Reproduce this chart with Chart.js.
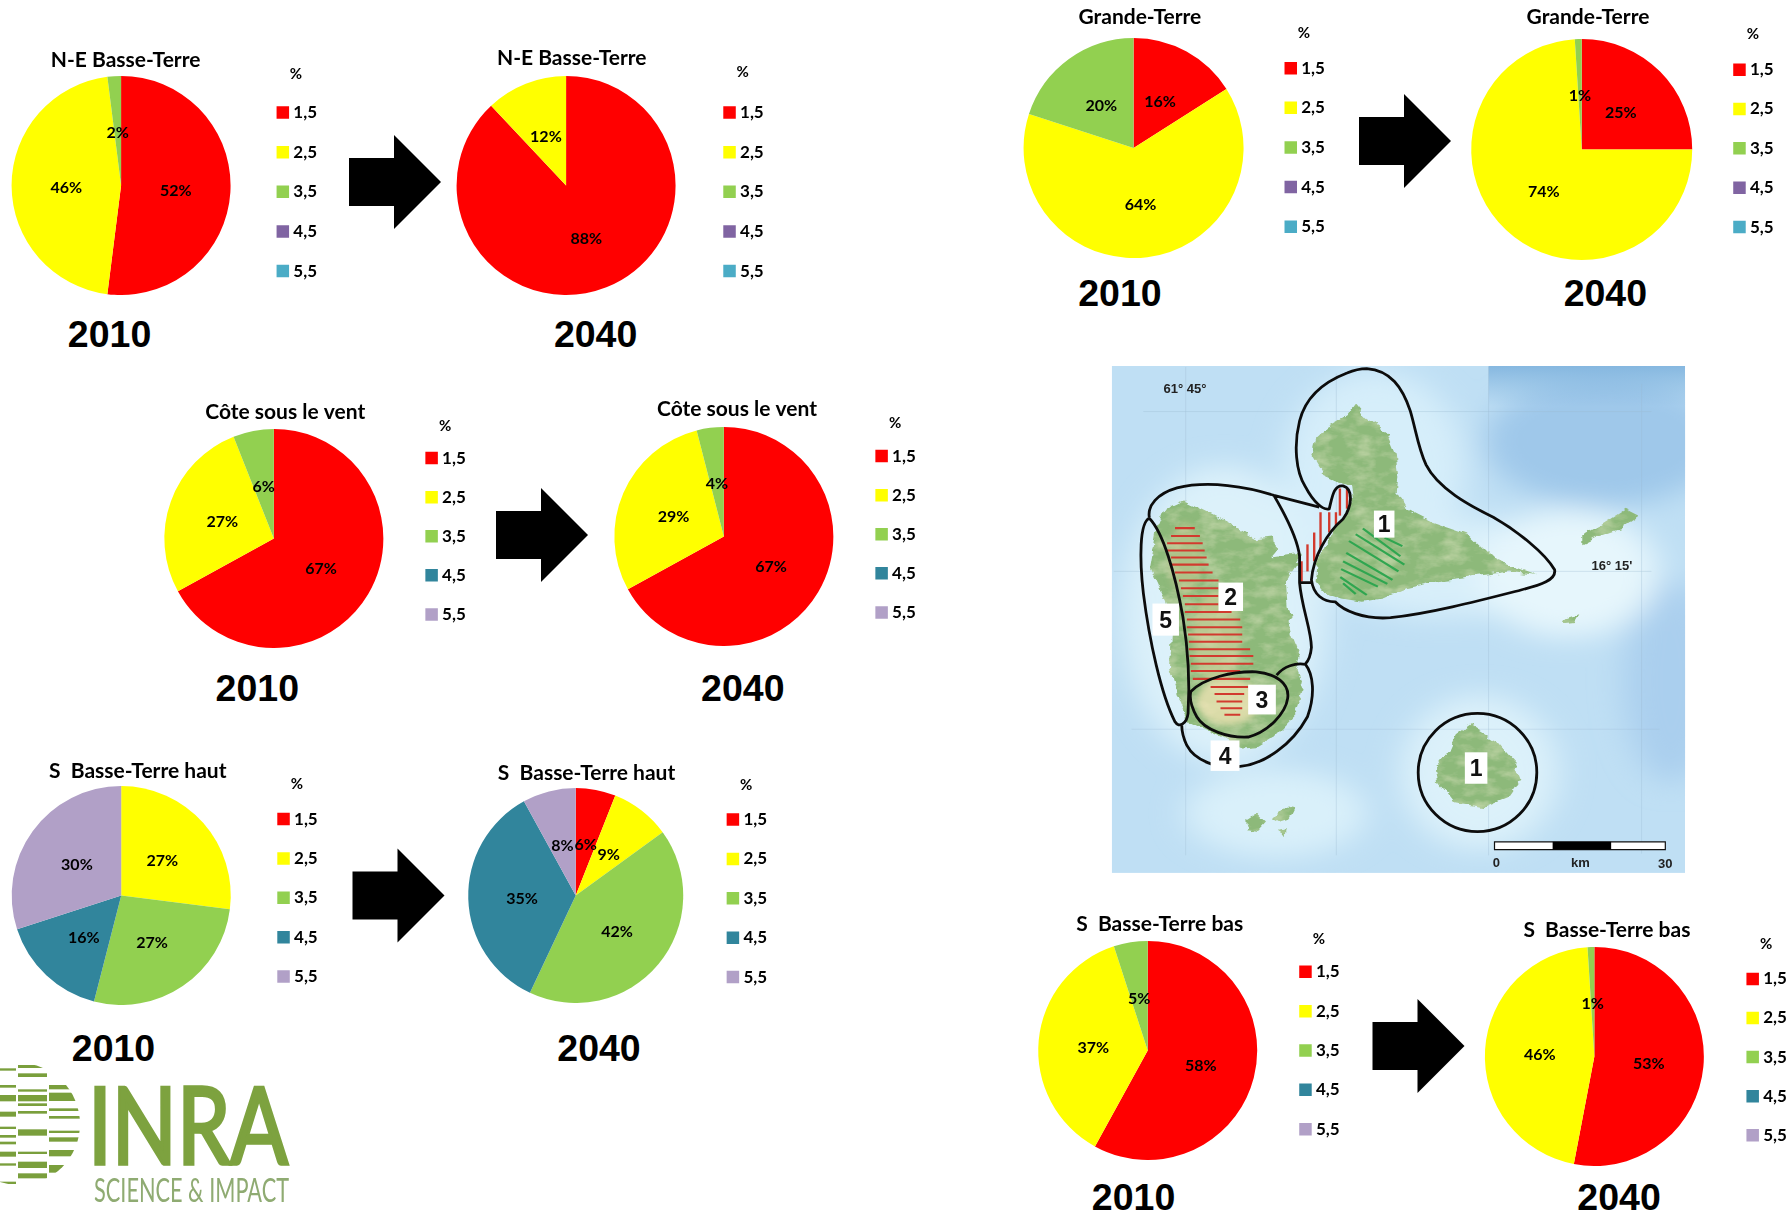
<!DOCTYPE html>
<html><head><meta charset="utf-8">
<style>
html,body{margin:0;padding:0;background:#fff;width:1789px;height:1215px;overflow:hidden}
#stage{position:relative;width:1789px;height:1215px;overflow:hidden}
canvas{position:absolute}
.year{position:absolute;font:bold 37.5px "Liberation Sans",Arial,sans-serif;line-height:1;transform:translate(-50%,-50%);color:#000}
svg{position:absolute;overflow:hidden}
</style>
<script src="https://cdn.jsdelivr.net/npm/chart.js@4"></script>
</head><body><div id="stage"></div>
<script>
// ---- data ----
const categories = ['1,5','2,5','3,5','4,5','5,5'];
const legendTitle = '%';
const neBasseTerre2010 = [52,46,2,0,0];
const neBasseTerre2040 = [88,12,0,0,0];
const grandeTerre2010 = [16,64,20,0,0];
const grandeTerre2040 = [25,74,1,0,0];
const coteSousLeVent2010 = [67,27,6,0,0];
const coteSousLeVent2040 = [67,29,4,0,0];
const sBasseTerreHaut2010 = [0,27,27,16,30];
const sBasseTerreHaut2040 = [6,9,42,35,8];
const sBasseTerreBas2010 = [58,37,5,0,0];
const sBasseTerreBas2040 = [53,46,1,0,0];
const coloursA = ['#FF0000','#FFFF00','#92D050','#8064A2','#4BACC6'];
const coloursB = ['#FF0000','#FFFF00','#92D050','#31859C','#B1A0C7'];

// ---- layout (pixels in the 1789 wide page) ----
const S = 1.141;
const panels = [
 {t:'N-E Basse-Terre',y:'2010',d:neBasseTerre2010,c:coloursA,cx:106.5,cy:163,r:96,tx:110.5,ty:53,sx:243,py:65.5,i1:99,i5:238,yx:96,yy:294},
 {t:'N-E Basse-Terre',y:'2040',d:neBasseTerre2040,c:coloursA,cx:496,cy:163,r:96,tx:501,ty:51.5,sx:634,py:63.5,i1:99,i5:238,yx:522,yy:294},
 {t:'Grande-Terre',y:'2010',d:grandeTerre2010,c:coloursA,cx:993.5,cy:130,r:96.5,tx:999,ty:15.5,sx:1126,py:29.5,i1:60,i5:199,yx:981.5,yy:258},
 {t:'Grande-Terre',y:'2040',d:grandeTerre2040,c:coloursA,cx:1386,cy:131,r:97,tx:1391.5,ty:15.5,sx:1519,py:29.5,i1:61,i5:199,yx:1407,yy:258},
 {t:'Côte sous le vent',y:'2010',d:coteSousLeVent2010,c:coloursB,cx:240,cy:472,r:96,tx:250,ty:361.5,sx:373,py:373.5,i1:401.5,i5:538.5,yx:225.5,yy:603.5},
 {t:'Côte sous le vent',y:'2040',d:coteSousLeVent2040,c:coloursB,cx:634,cy:470,r:96,tx:645.5,ty:358.5,sx:767,py:370.5,i1:399.5,i5:536.5,yx:651,yy:603.5},
 {t:'S  Basse-Terre haut',y:'2010',d:sBasseTerreHaut2010,c:coloursB,cx:106,cy:785,r:96,tx:120.5,ty:676.5,sx:243,py:687.5,i1:718,i5:856,yx:99.5,yy:919},
 {t:'S  Basse-Terre haut',y:'2040',d:sBasseTerreHaut2040,c:coloursB,cx:504.5,cy:785,r:94,tx:514,ty:677.5,sx:637,py:688.5,i1:718.5,i5:856.5,yx:525,yy:919},
 {t:'S  Basse-Terre bas',y:'2010',d:sBasseTerreBas2010,c:coloursB,cx:1006,cy:921,r:96,tx:1016.5,ty:810.5,sx:1139,py:823.5,i1:852,i5:990,yx:993.5,yy:1050},
 {t:'S  Basse-Terre bas',y:'2040',d:sBasseTerreBas2040,c:coloursB,cx:1397.5,cy:926,r:96,tx:1408.5,ty:815,sx:1531,py:827.5,i1:858,i5:995,yx:1419,yy:1050}
];
const arrows = [[349,182],[1359,141],[496,535],[352.5,895.6],[1372.5,1046]];

const stage = document.getElementById('stage');
const FONT = 'Lato, "Open Sans", sans-serif';
const LEG_W = 70, TITLE_BOX = 40, LEG_FS = 17, TITLE_FS = 21;

const pctLabels = {
  id:'pctLabels',
  afterDatasetsDraw(chart){
    const ctx = chart.ctx, vals = chart.data.datasets[0].data;
    ctx.save();
    ctx.font = 'bold 16px ' + FONT; ctx.fillStyle = '#000';
    ctx.textAlign = 'center'; ctx.textBaseline = 'middle';
    chart.getDatasetMeta(0).data.forEach((arc,i)=>{
      if(!vals[i]) return;
      const p = arc.tooltipPosition();
      ctx.fillText(vals[i] + '%', p.x, p.y + 2);
    });
    ctx.restore();
  }
};
const placer = {
  id:'placer',
  afterLayout(chart){
    const g = chart.options.plugins.placer, a = chart.chartArea;
    const mx = (a.left+a.right)/2, my = (a.top+a.bottom)/2;
    const tb = chart.titleBlock;
    const tc = (tb.left+tb.right)/2, dx = mx + g.tdx - tc;
    tb.left += dx; tb.right += dx;
    const lh = tb.options.font.size*1.2;
    const tyNow = tb.top + lh/2, dy = my + g.tdy - tyNow;
    tb.top += dy; tb.bottom += dy;
    const lg = chart.legend;
    const w = lg.right-lg.left, h = lg.bottom-lg.top;
    lg.left = mx + g.sdx + 4 - g.pad; lg.right = lg.left + w;
    lg.top = my + g.pdy - 7.5; lg.bottom = lg.top + h;
    lg.width = w + 6.8;
  }
};

panels.forEach(p=>{
  const cx=p.cx*S, cy=p.cy*S, r=p.r*S, sx=p.sx*S;
  const pad = (p.i5-p.i1)/4*S - LEG_FS;
  const gap = (p.i1-p.py)*S - (18 + pad + LEG_FS/2 - 7.5);
  const W = Math.round(2*(sx-cx+10)+LEG_W), H = Math.round(2*r+TITLE_BOX);
  const cv = document.createElement('canvas');
  cv.style.width=W+'px'; cv.style.height=H+'px'; cv.width=W; cv.height=H;
  cv.style.left='0px'; cv.style.top='0px';
  stage.appendChild(cv);
  const chart = new Chart(cv,{
    type:'pie',
    data:{labels:categories,datasets:[{data:p.d,backgroundColor:p.c,borderWidth:0}]},
    options:{
      responsive:false,animation:false,devicePixelRatio:1,
      layout:{padding:0},
      plugins:{
        tooltip:{enabled:false},
        title:{display:true,text:p.t,color:'#000',fullSize:false,font:{family:FONT,size:TITLE_FS,weight:'bold',lineHeight:1.2},padding:{top:0,bottom:TITLE_BOX-TITLE_FS*1.2}},
        legend:{display:true,position:'right',align:'start',
          title:{display:true,text:legendTitle,color:'#000',font:{family:FONT,size:15,weight:'bold',lineHeight:1.2},padding:{top:0,bottom:gap}},
          labels:{color:'#000',font:{family:FONT,size:LEG_FS,weight:'bold',lineHeight:1.2},usePointStyle:true,pointStyle:'rect',boxWidth:4,boxHeight:12.5,padding:pad}},
        placer:{tdx:(p.tx-p.cx)*S,tdy:(p.ty-p.cy)*S,sdx:(p.sx-p.cx)*S,pdy:(p.py-p.cy)*S,pad}
      }
    },
    plugins:[pctLabels,placer]
  });
  const a = chart.chartArea;
  cv.style.left = (cx-(a.left+a.right)/2)+'px';
  cv.style.top = (cy-(a.top+a.bottom)/2)+'px';
  const y = document.createElement('div');
  y.className='year'; y.textContent=p.y;
  y.style.left=(p.yx*S)+'px'; y.style.top=(p.yy*S)+'px';
  stage.appendChild(y);
});

// ---- arrows ----
let arrowSvg='<svg style="left:0;top:0" width="1789" height="1215">';
arrows.forEach(([x,y])=>{
  arrowSvg+=`<polygon fill="#000" points="${x},${y-24} ${x+45},${y-24} ${x+45},${y-47} ${x+92},${y} ${x+45},${y+47} ${x+45},${y+24} ${x},${y+24}"/>`;
});
arrowSvg+='</svg>';
stage.insertAdjacentHTML('beforeend',arrowSvg);

// ---- map, in the coordinates of a 1568 x 1568 box stretched over 620 x 530 ----
const hatchRed=[[527,215,265],[550,205,278],[572,195,285],[593,195,290],[614,205,295],[635,205,300],[658,215,310],[682,225,325],[705,230,325],[728,235,325],[752,240,325],[775,240,358],[797,245,380],[820,245,385],[842,248,385],[863,250,385],[885,250,405],[905,252,413],[928,255,413],[950,255,380],[973,260,405],[997,305,400],[1018,315,390],[1040,320,385],[1060,330,385],[1079,340,380]];
const hatchV=[[535,625,685],[550,575,655],[567,540,625],[583,480,590],[605,480,540],[622,480,520],[632,410,490],[650,405,470]];
const hatchG=[[690,528,785,610],[672,545,795,635],[655,565,780,655],[648,600,765,680],[640,625,752,692],[635,648,728,700],[633,672,700,725],[640,690,672,722],[745,555,790,580]];
let hr=hatchRed.map(([y,a,b])=>`<line x1="${a}" x2="${b}" y1="${y}" y2="${y}"/>`).join('');
let hv=hatchV.map(([x,a,b])=>`<line x1="${x}" x2="${x}" y1="${a}" y2="${b}"/>`).join('');
let hg=hatchG.map(([a,b,c,d])=>`<line x1="${a}" y1="${b}" x2="${c}" y2="${d}"/>`).join('');
const mx=z=>1090+z/2.529, my=z=>350+z/2.958;
const boxes=[[718,475,770,555,'1'],[325,688,387,772,'2'],[158,750,225,845,'5'],[400,990,470,1078,'3'],[305,1155,378,1245,'4'],[948,1190,1005,1283,'1']];
let boxHtml=boxes.map(([a,b,c,d,t])=>`<rect x="${mx(a)}" y="${my(b)}" width="${mx(c)-mx(a)}" height="${my(d)-my(b)}" fill="#fff"/><text x="${(mx(a)+mx(c))/2}" y="${(my(b)+my(d))/2+8}" text-anchor="middle" font-family="Liberation Sans" font-weight="bold" font-size="23" fill="#111">${t}</text>`).join('');
const btPath="M235,445 L280,470 350,510 420,560 465,555 470,610 530,600 530,620 495,680 500,760 510,840 530,900 520,950 540,1010 520,1080 470,1140 420,1175 380,1180 320,1140 250,1100 225,1030 200,940 205,830 190,740 150,640 165,540 190,470Z";
const mapSvg=`
<svg style="left:1090px;top:350px" width="620" height="530" viewBox="0 0 1568 1568" preserveAspectRatio="none">
<defs>
<filter id="b1" x="-30%" y="-30%" width="160%" height="160%"><feGaussianBlur stdDeviation="40"/></filter>
<filter id="b2" x="-30%" y="-30%" width="160%" height="160%"><feGaussianBlur stdDeviation="10"/></filter>
<filter id="land" x="-5%" y="-5%" width="110%" height="110%">
<feTurbulence type="fractalNoise" baseFrequency="0.018 0.03" numOctaves="4" seed="4" result="n"/>
<feDisplacementMap in="SourceGraphic" in2="n" scale="26" xChannelSelector="R" yChannelSelector="G" result="d"/>
<feColorMatrix in="n" type="matrix" values="0 0 0 0 0.80  0 0 0 0 0.86  0 0 0 0 0.58  0 0 0 0.9 -0.38" result="t"/>
<feComposite in="t" in2="d" operator="in" result="tt"/>
<feMerge><feMergeNode in="d"/><feMergeNode in="tt"/></feMerge>
</filter>
<clipPath id="mc"><rect x="55" y="47" width="1450" height="1500"/></clipPath>
<clipPath id="bt"><path d="${btPath}"/></clipPath>
<linearGradient id="top" x1="0" y1="0" x2="0" y2="1"><stop offset="0" stop-color="#78AEDB" stop-opacity=".8"/><stop offset="1" stop-color="#78AEDB" stop-opacity="0"/></linearGradient>
</defs>
<g clip-path="url(#mc)">
<rect x="55" y="47" width="1450" height="1500" fill="#BFDFF4"/>
<g filter="url(#b1)">
<ellipse cx="1300" cy="270" rx="300" ry="190" fill="#9FC8EA"/>
<ellipse cx="1470" cy="980" rx="120" ry="300" fill="#AACFEE"/>
<ellipse cx="720" cy="350" rx="230" ry="290" fill="#D6EEFA"/>
<ellipse cx="340" cy="780" rx="260" ry="440" fill="#DCF1FA"/>
<ellipse cx="900" cy="640" rx="330" ry="150" fill="#D8EFFA"/>
<ellipse cx="1210" cy="660" rx="230" ry="190" fill="#E6F6FC"/>
<ellipse cx="985" cy="1250" rx="200" ry="230" fill="#DCF1FA"/>
<ellipse cx="470" cy="1370" rx="230" ry="130" fill="#D9F0FA"/>
</g>
<rect x="1008" y="47" width="497" height="120" fill="url(#top)"/>
<g stroke="#9DBBD2" stroke-width="1.2" vector-effect="non-scaling-stroke" opacity=".75">
<line x1="135" x2="1420" y1="182" y2="182"/><line x1="60" x2="1420" y1="655" y2="655"/><line x1="105" x2="1440" y1="1122" y2="1122"/>
<line x1="242" x2="242" y1="50" y2="1495"/><line x1="623" x2="623" y1="70" y2="1495"/><line x1="1008" x2="1008" y1="50" y2="1495"/><line x1="1395" x2="1395" y1="100" y2="1490"/>
</g>
<g fill="#8DB97A" filter="url(#land)">
<path d="M672,160 L700,200 750,240 772,300 780,380 775,420 800,470 860,505 960,545 1000,590 1030,625 1090,650 1125,665 1060,655 1000,665 900,680 800,705 740,735 690,745 640,735 590,715 568,685 575,625 610,540 640,500 665,440 660,400 620,385 590,370 560,310 570,260 600,230 650,195Z"/>
<path d="${btPath}"/>
<path d="M960,1110 L1030,1160 1075,1220 1090,1270 1060,1320 990,1355 920,1340 880,1280 875,1235 910,1180 925,1140Z"/>
<path d="M1355,470 L1390,490 1340,530 1280,555 1245,575 1245,545 1300,510Z"/>
<path d="M395,1395 L425,1372 445,1395 425,1420 400,1415Z M465,1385 L500,1345 520,1350 505,1385 480,1395Z M475,1425 L495,1420 492,1438Z M1195,800 L1235,785 1225,805 1200,808Z"/>
</g>
<g clip-path="url(#bt)"><g filter="url(#b2)">
<ellipse cx="350" cy="1040" rx="80" ry="70" fill="#EDE4B4" opacity=".8"/>
<ellipse cx="320" cy="850" rx="60" ry="140" fill="#D9D4A2" opacity=".6"/>
<ellipse cx="240" cy="620" rx="40" ry="110" fill="#CFCB98" opacity=".5"/>
</g></g>
<g fill="none" stroke="#D23A2E" stroke-width="6">${hr}${hv}</g>
<g fill="none" stroke="#2FA650" stroke-width="6">${hg}</g>
<g fill="none" stroke="#0c0c0c" stroke-width="2.8" stroke-linejoin="round">
<path vector-effect="non-scaling-stroke" d="M700,55 C760,60 790,110 810,180 C825,240 830,290 850,340 C880,410 960,460 1020,495 C1080,535 1150,600 1175,650 C1180,680 1140,695 1090,710 C990,740 860,780 760,792 C690,798 640,770 620,745 C590,745 565,725 560,680 C565,610 600,540 640,500 C665,460 665,410 640,402 C615,398 612,440 605,470 C590,475 565,450 545,405 C520,360 515,280 530,210 C545,140 590,95 650,68 C670,58 685,55 700,55Z"/>
<path vector-effect="non-scaling-stroke" d="M150,495 C145,460 170,425 220,408 C300,385 400,405 465,430 L580,465 M465,430 C490,480 525,560 530,610 L530,688 L562,688 M530,688 C535,760 560,830 560,880 C558,905 552,920 545,928"/>
<path vector-effect="non-scaling-stroke" d="M472,962 C490,935 520,925 545,930 C565,960 570,1020 550,1085 C510,1170 440,1225 380,1232 C320,1240 265,1215 245,1170 C235,1145 232,1125 232,1110"/>
<path vector-effect="non-scaling-stroke" d="M255,1010 C290,970 360,950 420,952 C470,958 505,985 500,1030 C495,1075 450,1130 400,1145 C350,1148 290,1125 270,1085 C258,1060 250,1035 255,1010Z"/>
<path vector-effect="non-scaling-stroke" d="M150,498 C185,540 215,660 235,790 C250,900 252,1000 248,1075 C245,1105 225,1120 215,1100 C180,1020 150,860 135,720 C125,620 125,510 150,498Z"/>
<ellipse vector-effect="non-scaling-stroke" cx="980" cy="1250" rx="150" ry="175"/>
</g>
<rect x="1023" y="1455" width="432" height="23" fill="#fff" stroke="#111" stroke-width="1.2" vector-effect="non-scaling-stroke"/>
<rect x="1170" y="1455" width="148" height="23" fill="#000"/>
</g>
</svg>
<svg style="left:0;top:0" width="1789" height="1215">${boxHtml}
<g font-family="Liberation Sans" font-weight="bold" font-size="13" fill="#222">
<text x="${mx(240)}" y="${my(112)+5}" text-anchor="middle">61° 45°</text>
<text x="${mx(1320)}" y="${my(635)+5}" text-anchor="middle">16° 15'</text>
<text x="${mx(1028)}" y="${my(1515)+5}" text-anchor="middle">0</text>
<text x="${mx(1240)}" y="${my(1515)+5}" text-anchor="middle">km</text>
<text x="${mx(1455)}" y="${my(1518)+5}" text-anchor="middle">30</text>
</g></svg>`;
stage.insertAdjacentHTML('beforeend',mapSvg);

// ---- logo ----
const bars={0:[[85,4],[135,5],[165,16],[215,12],[260,4],[285,5],[305,5],[335,12],[370,4],[425,4]],
 18:[[75,6],[100,8],[148,4],[165,16],[190,5],[213,5],[268,16],[335,4],[365,16],[400,12],[435,4]],
 49:[[135,10],[158,22],[205,5],[228,5],[272,4],[292,10],[330,16],[375,20]]};
const colW={0:16,18:29,49:31};
let logoBars='';
Object.keys(bars).forEach(k=>bars[k].forEach(([z,h])=>{logoBars+=`<rect x="${k}" y="${1040+z/3}" width="${colW[k]}" height="${h/3+1}"/>`;}));
stage.insertAdjacentHTML('beforeend',`
<svg style="left:0;top:0" width="1789" height="1215">
<defs><clipPath id="lc"><circle cx="19" cy="1124" r="61"/></clipPath></defs>
<g clip-path="url(#lc)" fill="#7A9F3C">${logoBars}</g>
<text x="88" y="1164" font-family="Lato" font-size="106" textLength="200" lengthAdjust="spacingAndGlyphs" fill="#7DA23F" stroke="#7DA23F" stroke-width="3.5">INRA</text>
<text x="94" y="1202" font-family="Liberation Sans Narrow, Lato" font-size="33" textLength="195" lengthAdjust="spacingAndGlyphs" fill="#8FAB72">SCIENCE &amp; IMPACT</text>
</svg>`);
</script></body></html>
